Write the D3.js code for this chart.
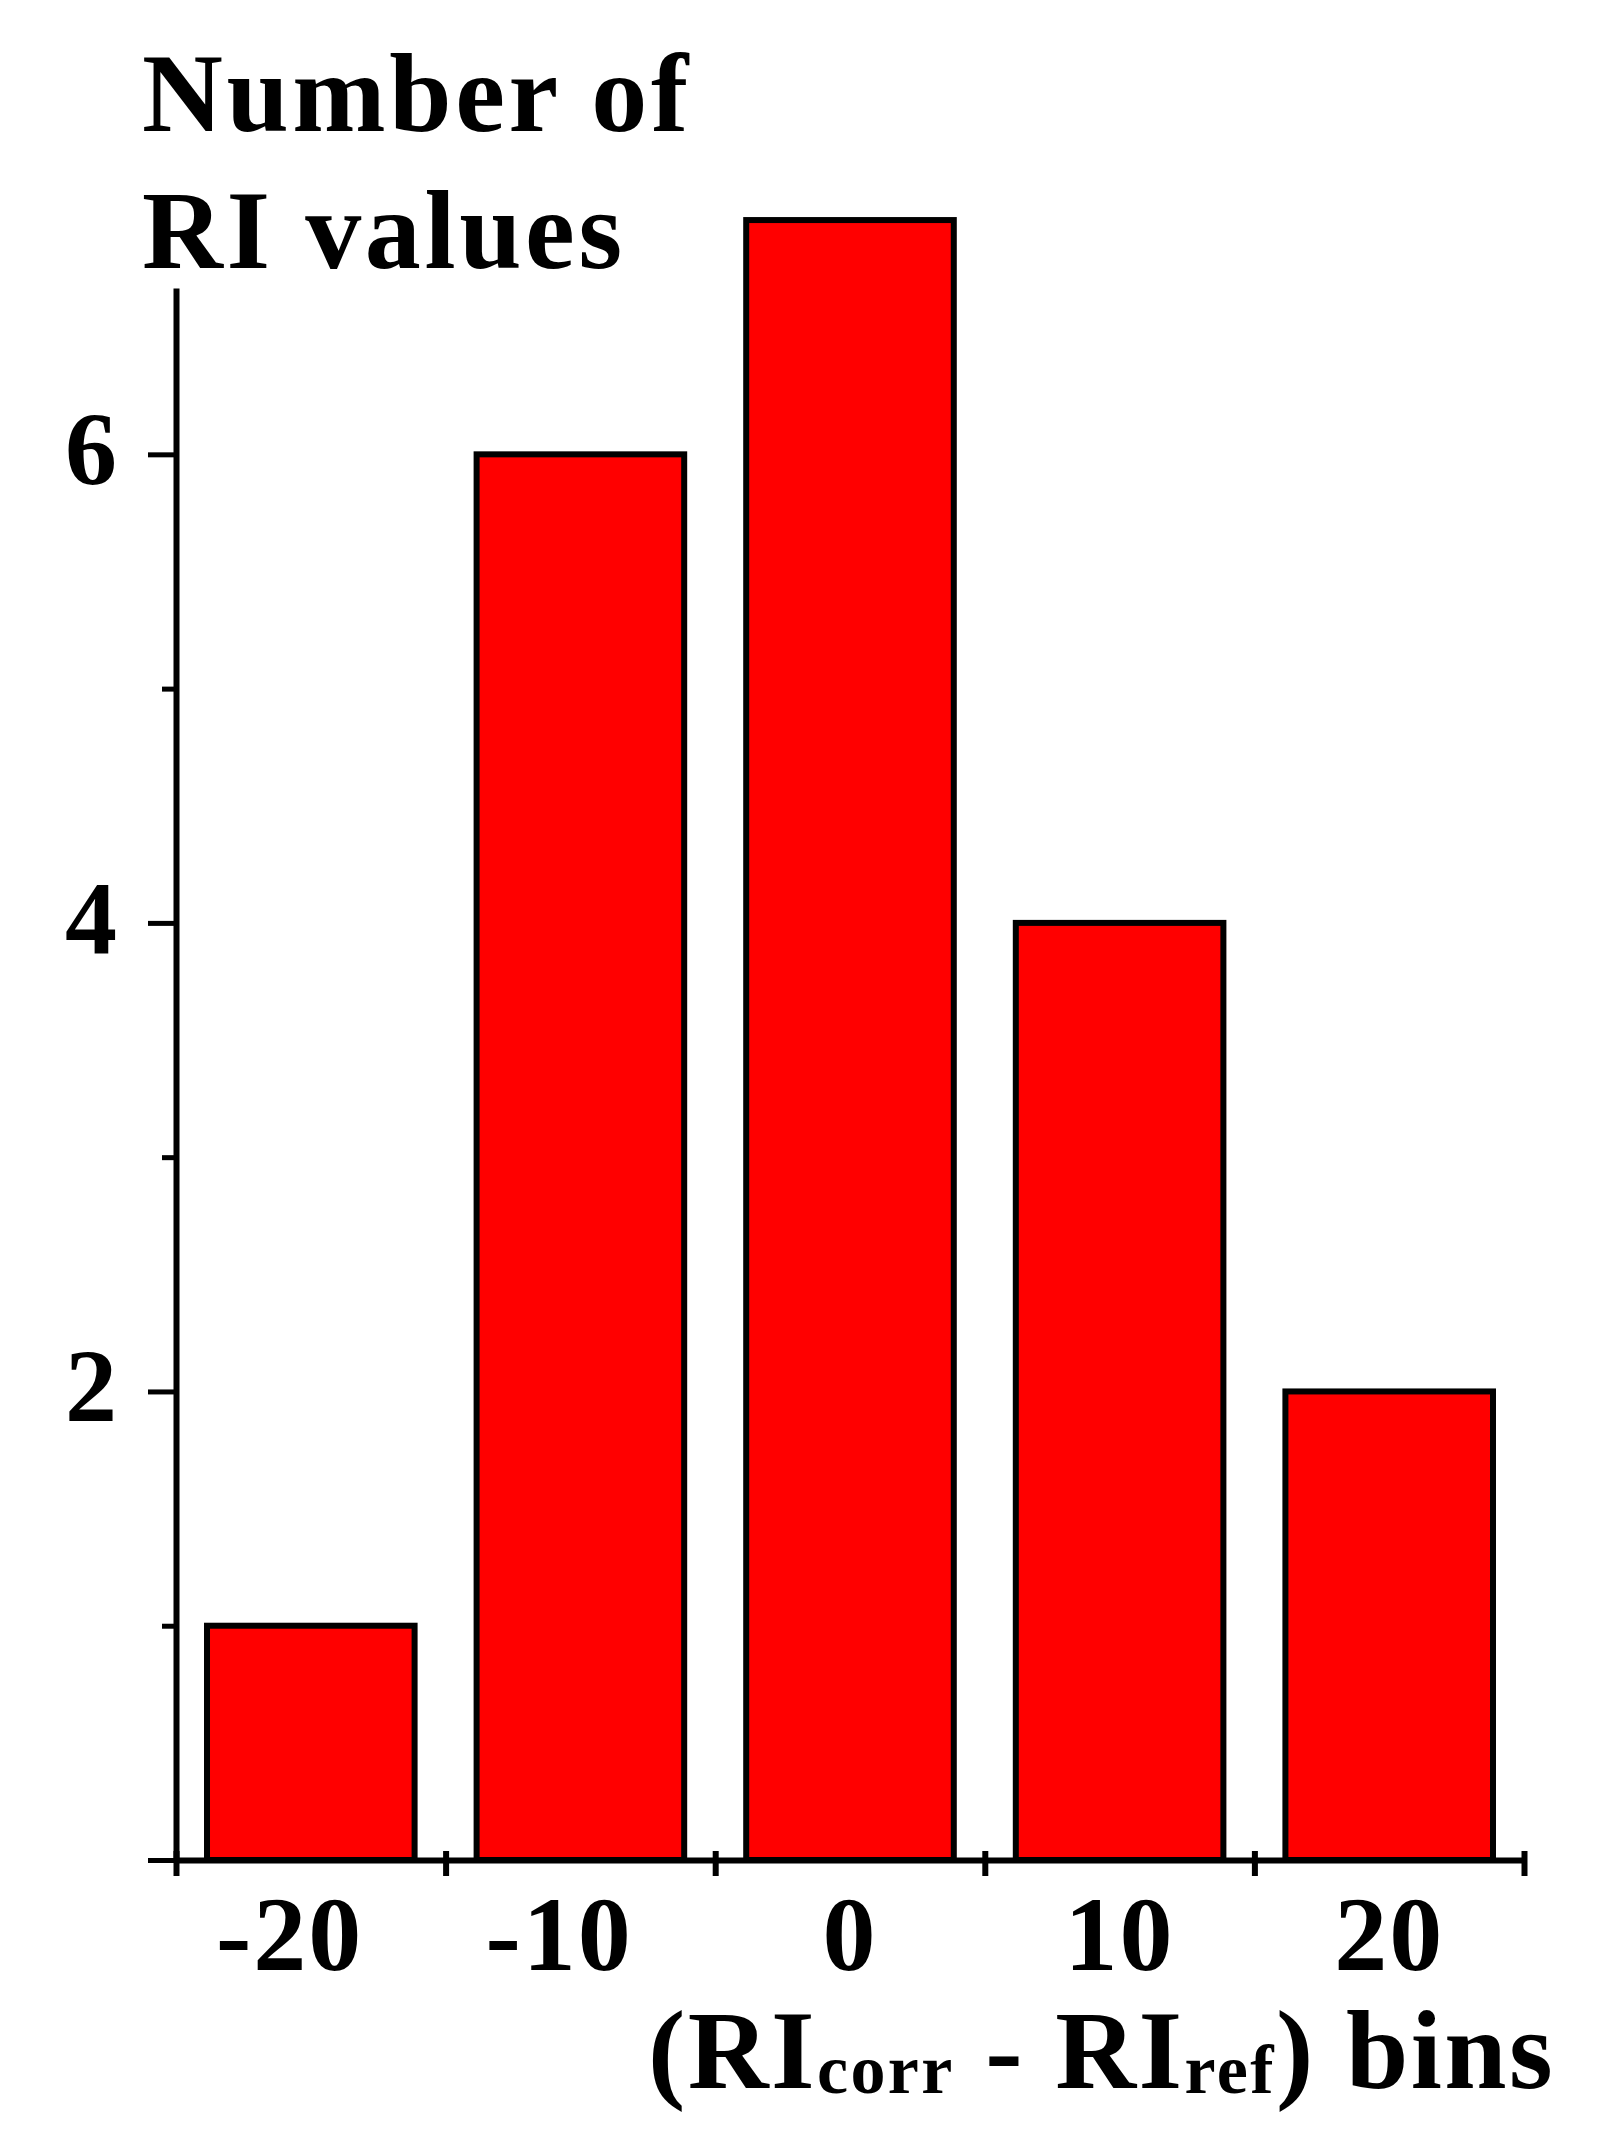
<!DOCTYPE html>
<html>
<head>
<meta charset="utf-8">
<script src="https://cdn.jsdelivr.net/npm/d3@7"></script>
<style>
  body { margin: 0; background: #fff; }
  svg text { font-family: "Liberation Serif", "Times New Roman", serif; font-weight: bold; fill: #000; }
</style>
</head>
<body>
<div id="chartDiv"></div>
<script>
// bins of (RIcorr - RIref) and how many RI values fall in each
const bins = [-20, -10, 0, 10, 20];
const counts = [1, 6, 7, 4, 2];
const binEdges = [-25, -15, -5, 5, 15, 25];
const yMajorTicks = [0, 2, 4, 6];
const yMinorTicks = [1, 3, 5];

const width = 1605;
const height = 2137;

const x0 = 176, x1 = 1524;   // x axis extent
const yZero = 1860, yTop = 288;

const xEdge = d3.scaleLinear().domain([-25, 25]).range([x0, x1]);
const xBand = d3.scaleBand()
    .domain(bins)
    .range([x0, x1])
    .paddingInner(0.23)
    .paddingOuter(0.115);
const y = d3.scaleLinear().domain([0, 6.71]).range([yZero, yTop]);

const svg = d3.create("svg")
    .attr("width", width)
    .attr("height", height)
    .attr("viewBox", [0, 0, width, height]);

// bars
svg.append("g")
    .selectAll("rect")
    .data(bins.map((b, i) => ({bin: b, count: counts[i]})))
    .join("rect")
    .attr("x", d => xBand(d.bin))
    .attr("width", xBand.bandwidth())
    .attr("y", d => y(d.count))
    .attr("height", d => y(0) - y(d.count))
    .attr("fill", "#ff0000")
    .attr("stroke", "#000")
    .attr("stroke-width", 6);

// y axis, major ticks
const yAxis = svg.append("g")
    .attr("transform", `translate(${x0},0)`)
    .call(d3.axisLeft(y)
        .tickValues(yMajorTicks)
        .tickSize(28)
        .tickSizeOuter(0)
        .tickPadding(31)
        .tickFormat(d => d === 0 ? "" : d));
yAxis.select(".domain").attr("stroke-width", 6);
yAxis.selectAll(".tick line").attr("stroke-width", 5);
yAxis.selectAll(".tick text")
    .attr("font-size", 104)
    .attr("font-family", null)
    .attr("dy", "0.28em");

// y axis, minor ticks
const yMinor = svg.append("g")
    .attr("transform", `translate(${x0},0)`)
    .call(d3.axisLeft(y)
        .tickValues(yMinorTicks)
        .tickSize(14)
        .tickSizeOuter(0)
        .tickFormat(""));
yMinor.select(".domain").remove();
yMinor.selectAll(".tick line").attr("stroke-width", 5);

// x axis with ticks at bin edges
const xAxis = svg.append("g")
    .attr("transform", `translate(0,${yZero})`)
    .call(d3.axisBottom(xEdge)
        .tickValues(binEdges)
        .tickSize(16)
        .tickSizeOuter(0)
        .tickFormat(""));
xAxis.select(".domain").attr("stroke-width", 6);
xAxis.selectAll(".tick line")
    .attr("y1", -9)
    .attr("stroke-width", 6);

// bin labels, digits centred on the bar
svg.append("g")
    .selectAll("text")
    .data(bins)
    .join("text")
    .attr("x", d => xBand(d) + xBand.bandwidth() / 2)
    .attr("y", 1970)
    .attr("dx", d => d < 0 ? "-0.2em" : 0)
    .attr("text-anchor", "middle")
    .attr("font-size", 106)
    .attr("letter-spacing", 2)
    .text(d => d < 0 ? "-" + Math.abs(d) : d);

// y title
const yTitle = svg.append("text")
    .attr("font-size", 112)
    .attr("letter-spacing", 3.6);
yTitle.append("tspan").attr("x", 142).attr("y", 131).text("Number of");
yTitle.append("tspan").attr("x", 142).attr("y", 268).text("RI values");

// x title with subscripts
const xTitle = svg.append("text")
    .attr("x", 648)
    .attr("y", 2088)
    .attr("font-size", 112)
    .attr("letter-spacing", 2.4);
xTitle.append("tspan").text("(RI");
xTitle.append("tspan").attr("font-size", 70).attr("dy", 5).text("corr");
xTitle.append("tspan").attr("dy", -5).text(" - RI");
xTitle.append("tspan").attr("font-size", 70).attr("dy", 5).text("ref");
xTitle.append("tspan").attr("dy", -5).text(") bins");

document.getElementById("chartDiv").appendChild(svg.node());
</script>
</body>
</html>
